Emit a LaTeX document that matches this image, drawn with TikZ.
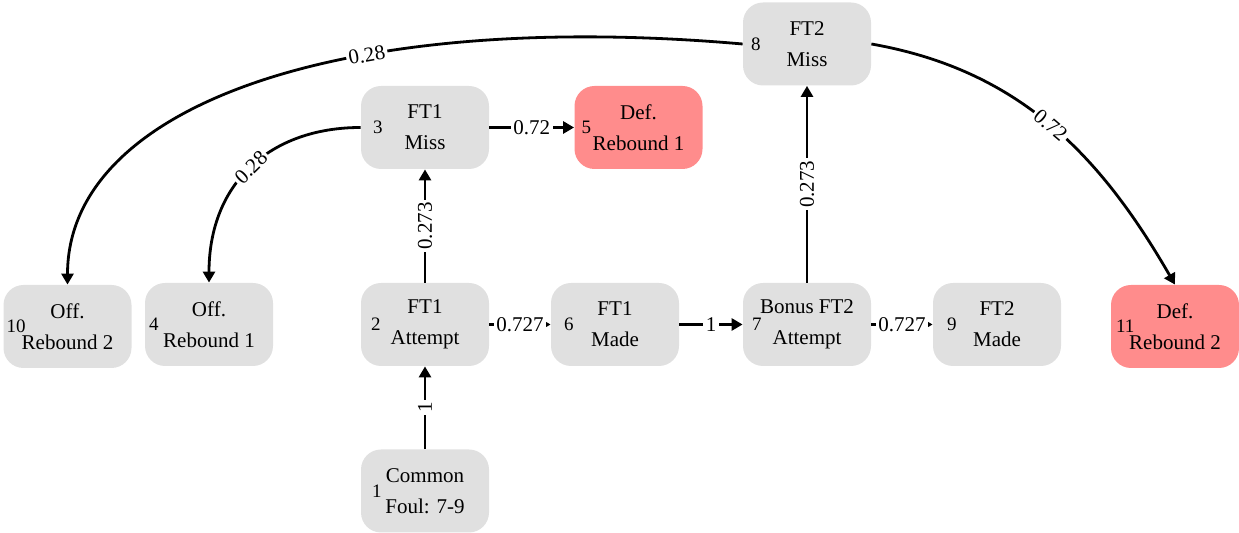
\documentclass[tikz,border=0pt]{standalone}
\usepackage{fontspec}
\setmainfont{Liberation Serif}
\usetikzlibrary{arrows.meta}
\definecolor{stategray}{RGB}{224,224,224}
\definecolor{defred}{RGB}{255,140,140}

\tikzset{
	stbox/.style={rectangle, rounded corners=10pt, fill=stategray, minimum width=64pt, minimum height=41.5pt, inner sep=0pt, align=center, font=\fontsize{10.5}{15.5}\selectfont},
	defbox/.style={stbox, fill=defred},
	idx/.style={anchor=west, inner sep=0pt, font=\fontsize{9.5}{9.5}\selectfont},
	trans/.style={-{Triangle[length=5.5pt,width=6pt]}, line width=1.4pt},
	prob/.style={fill=white, inner sep=1.2pt, font=\fontsize{10.5}{10.5}\selectfont},
}

\begin{document}
\begin{tikzpicture}[x=0.5pt, y=0.5pt]
			\useasboundingbox (0,0) rectangle (1239,-533);

			\node[stbox, label={[idx, xshift=5.5pt]west:1}] (n1) at (425,-491) {Common\\Foul: 7-9};
			\node[stbox, label={[idx, xshift=5pt]west:2}] (n2) at (425,-324.5) {FT1\\Attempt};
			\node[stbox, label={[idx, xshift=6pt]west:3}] (n3) at (425,-127.5) {FT1\\Miss};
			\node[stbox, label={[idx, xshift=2pt]west:4}] (n4) at (209,-324.5) {Off.\\Rebound 1};
			\node[defbox, label={[idx, xshift=3.5pt]west:5}] (n5) at (638.5,-127.5) {Def.\\Rebound 1};
			\node[stbox, label={[idx, xshift=6.5pt]west:6}] (n6) at (615,-324.5) {FT1\\Made};
			\node[stbox, label={[idx, xshift=4.5pt]west:7}] (n7) at (807,-324.5) {Bonus FT2\\Attempt};
			\node[stbox, label={[idx, xshift=4pt]west:8}] (n8) at (807,-44) {FT2\\Miss};
			\node[stbox, label={[idx, xshift=7pt]west:9}] (n9) at (997,-324.5) {FT2\\Made};
			\node[stbox, label={[idx, xshift=1.5pt]west:10}] (n10) at (67.5,-326.5) {Off.\\Rebound 2};
			\node[defbox, label={[idx, xshift=2.5pt]west:11}] (n11) at (1175,-326.5) {Def.\\Rebound 2};

			\draw[trans] (n1) -- node[prob, sloped] {1} (n2);
			\draw[trans] (n2) -- node[prob, sloped] {0.273} (n3);
			\draw[trans] (n3) -- node[prob] {0.72} (n5);
			\draw[trans] (n2) -- node[prob] {0.727} (n6);
			\draw[trans] (n6) -- node[prob] {1} (n7);
			\draw[trans] (n7) -- node[prob] {0.727} (n9);
			\draw[trans] (n7) -- node[prob, sloped] {0.273} (n8);
			\draw[trans] (n3.west) .. controls +(-90,0) and +(0,100) .. node[prob, sloped] {0.28} (n4.north);
			\draw[trans] (n8.west) .. controls +(175:400) and +(90:180) .. node[prob, sloped, pos=0.36] {0.28} (n10.north);
			\draw[trans] (n8.east) .. controls +(-10:150) and +(120:150) .. node[prob, sloped] {0.72} (n11.north);
		\end{tikzpicture}
\end{document}
